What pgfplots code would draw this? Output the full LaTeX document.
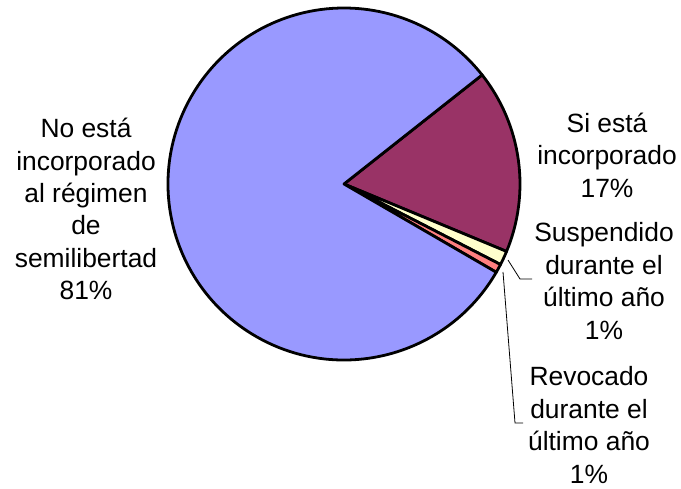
\documentclass[border=0pt]{standalone}
\usepackage{pgfplots}
\pgfplotsset{compat=1.18}
\usepackage{fontspec}
\setmainfont{Liberation Sans}

\definecolor{cSi}{RGB}{153,51,102}
\definecolor{cSusp}{RGB}{255,255,204}
\definecolor{cRev}{RGB}{255,128,128}
\definecolor{cNo}{RGB}{153,153,255}

\begin{document}
\begin{tikzpicture}
\begin{axis}[
  width=681bp, height=489bp,
  scale only axis,
  hide axis,
  xmin=0, xmax=681,
  ymin=0, ymax=489,
  clip=false,
]
% pie: shares in percent, drawn clockwise from 38.3 deg
\def\cx{344}
\def\cy{305}
\def\rad{176bp}
\def\startang{38.3}
\foreach \val/\col in {16.9/cSi, 1.3/cSusp, 0.8/cRev, 81.0/cNo} {
  \pgfmathsetmacro{\endang}{\startang-3.6*\val}
  \edef\temp{\noexpand\filldraw[fill=\col, draw=black, line width=2.8pt, line join=round]
    (axis cs:\cx,\cy) -- ++(\startang:\rad)
    arc[start angle=\startang, end angle=\endang, radius=\rad] -- cycle;}
  \temp
  \global\let\startang\endang
}

% leader lines
\addplot[black, line width=0.8pt] coordinates {(508,229) (520,210) (532,210)};
\addplot[black, line width=0.8pt] coordinates {(503,217) (515,66) (523,66)};

\tikzset{lbl/.style={align=center, font=\fontsize{26.5}{32.5}\selectfont, inner sep=0pt}}
\node[lbl] at (axis cs:86,280) {No está\\incorporado\\al régimen\\de\\semilibertad\\81\%};
\node[lbl] at (axis cs:607,334) {Si está\\incorporado\\17\%};
\node[lbl] at (axis cs:604,208) {Suspendido\\durante el\\último año\\1\%};
\node[lbl] at (axis cs:589,64) {Revocado\\durante el\\último año\\1\%};
\end{axis}
\pgfresetboundingbox
\useasboundingbox (0,0) rectangle (681bp,489bp);
\end{tikzpicture}
\end{document}
